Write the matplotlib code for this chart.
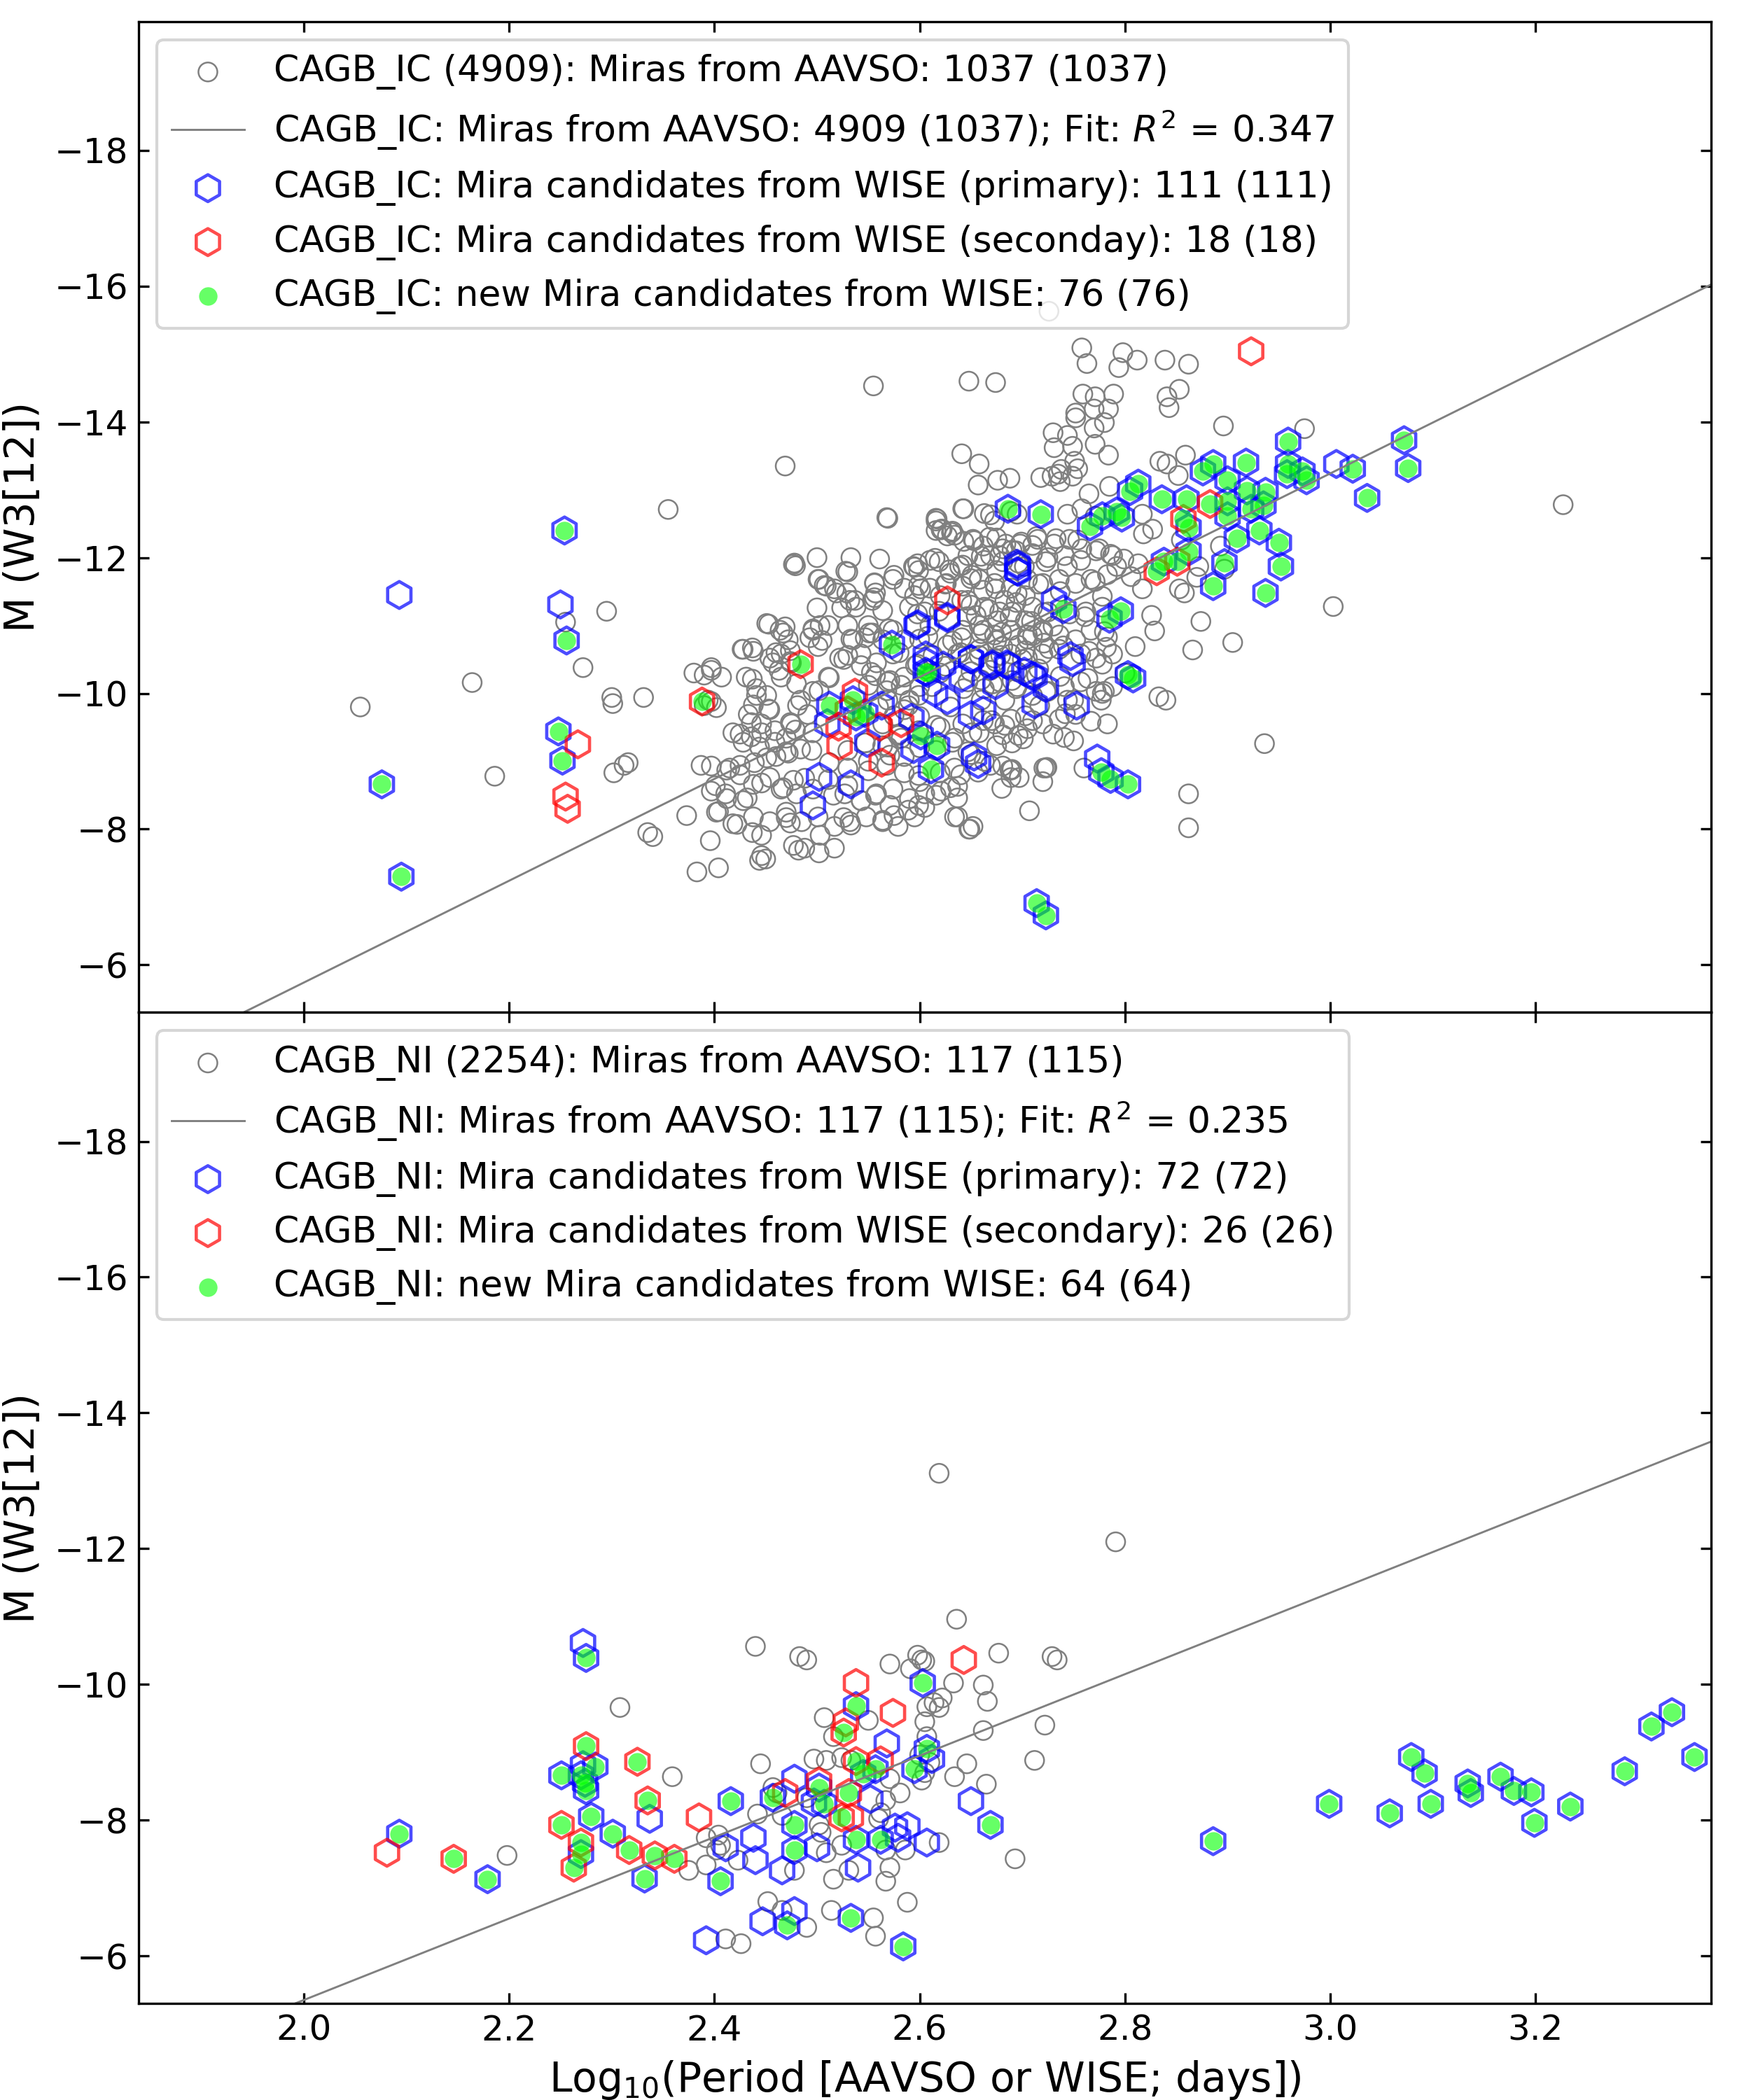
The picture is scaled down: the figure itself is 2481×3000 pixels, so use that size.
import numpy as np
import matplotlib
matplotlib.use("Agg")
import matplotlib.pyplot as plt

plt.rcParams['font.size'] = 12

# ---------------- CAGB_IC (top panel) ----------------
ic_aavso = [
    (2.055, -9.80), (2.164, -10.16), (2.186, -8.78), (2.255, -11.05), (2.272, -10.38), (2.295, -11.21),
    (2.300, -9.94), (2.301, -9.85), (2.331, -9.94), (2.302, -8.83), (2.312, -8.94), (2.316, -8.98),
    (2.387, -8.94), (2.355, -12.71), (2.469, -13.35), (2.555, -14.53), (2.648, -14.60), (2.674, -14.58),
    (2.726, -15.63), (3.227, -12.78), (3.003, -11.28), (2.936, -9.26), (2.862, -8.52), (2.862, -8.02),
    (2.905, -10.75), (2.866, -10.64), (2.874, -11.06), (2.833, -9.95), (2.810, -10.69), (2.826, -11.15),
    (2.896, -13.94), (2.975, -13.90), (2.707, -8.27),
    (2.758, -15.09), (2.763, -14.86), (2.798, -15.02), (2.812, -14.91), (2.794, -14.80), (2.839, -14.91),
    (2.862, -14.85), (2.853, -14.48), (2.841, -14.37), (2.843, -14.21), (2.759, -14.41), (2.771, -14.37),
    (2.789, -14.41), (2.752, -14.13), (2.770, -14.19), (2.784, -14.19), (2.752, -14.06), (2.780, -13.99),
    (2.770, -13.91), (2.730, -13.84), (2.744, -13.80), (2.771, -13.67), (2.731, -13.62), (2.749, -13.64),
    (2.784, -13.51), (2.641, -13.53), (2.658, -13.38), (2.751, -13.42), (2.754, -13.31), (2.735, -13.23),
    (2.749, -13.20), (2.657, -13.07), (2.676, -13.14), (2.688, -13.17), (2.718, -13.18), (2.737, -13.12),
    (2.834, -13.42), (2.841, -13.38), (2.859, -13.51), (2.852, -13.21), (2.643, -12.72), (2.669, -12.63),
    (2.695, -12.64), (2.744, -12.64), (2.758, -12.72), (2.771, -12.61), (2.765, -12.94), (2.785, -13.05),
    (2.617, -12.57), (2.622, -12.42), (2.632, -12.39), (2.643, -12.24), (2.662, -12.17), (2.681, -12.13),
    (2.698, -12.20), (2.714, -12.31), (2.733, -12.28), (2.754, -12.26), (2.817, -12.64), (2.827, -12.42),
    (2.818, -12.35), (2.855, -12.26), (2.893, -12.17), (2.872, -11.87), (2.817, -11.54), (2.858, -11.48),
    (2.792, -11.87), (2.806, -11.72), (2.771, -11.65), (2.778, -11.43), (2.761, -11.13), (2.780, -10.91),
    (2.765, -10.62), (2.778, -10.43), (2.775, -12.13), (2.786, -12.05), (2.799, -11.98), (2.813, -11.91),
    (2.758, -12.13), (2.729, -13.20), (2.738, -13.30), (2.568, -12.59), (2.616, -12.58), (2.621, -12.41),
    (2.627, -12.32),
    (2.598, -11.91), (2.619, -11.94), (2.639, -11.87), (2.660, -12.02), (2.681, -11.94), (2.702, -11.87),
    (2.723, -11.94), (2.744, -11.87), (2.601, -11.54), (2.625, -11.61), (2.650, -11.69), (2.674, -11.54),
    (2.695, -11.47), (2.716, -11.61), (2.737, -11.50), (2.598, -11.17), (2.619, -11.21), (2.646, -11.13),
    (2.667, -11.24), (2.688, -11.13), (2.709, -11.06), (2.730, -10.99), (2.608, -10.84), (2.632, -10.77),
    (2.660, -10.88), (2.681, -10.69), (2.705, -10.80), (2.726, -10.66), (2.598, -10.43), (2.625, -10.40),
    (2.650, -10.32), (2.674, -10.47), (2.695, -10.32), (2.716, -10.36), (2.737, -10.25), (2.612, -10.10),
    (2.643, -10.07), (2.671, -10.14), (2.695, -10.10), (2.723, -10.03),
    (2.657, -8.84), (2.681, -9.39), (2.701, -9.33), (2.744, -9.90), (2.764, -10.22), (2.777, -9.90),
    (2.782, -10.68), (2.829, -10.92), (2.840, -9.90), (2.853, -11.54), (2.870, -11.71), (2.897, -11.83),
    (2.634, -8.18), (2.649, -8.00), (2.688, -8.87), (2.724, -8.91), (2.742, -9.70), (2.780, -10.03),
    (2.800, -10.30), (2.750, -9.30), (2.760, -8.90),
    (2.477, -11.90), (2.479, -11.88), (2.500, -12.00), (2.533, -12.00), (2.561, -11.98), (2.530, -11.79),
    (2.575, -11.74), (2.594, -11.87), (2.599, -11.81), (2.615, -11.99), (2.630, -11.77), (2.616, -12.40),
    (2.634, -12.33), (2.653, -12.25), (2.675, -12.29), (2.502, -11.68), (2.507, -11.59), (2.517, -11.54),
    (2.529, -11.48), (2.537, -11.37), (2.524, -11.26), (2.500, -11.26), (2.556, -11.63), (2.557, -11.48),
    (2.554, -11.37), (2.564, -11.22), (2.453, -11.02), (2.469, -10.98), (2.467, -10.89), (2.496, -10.95),
    (2.503, -11.00), (2.493, -10.82), (2.505, -10.78), (2.533, -10.80), (2.554, -10.89), (2.550, -11.00),
    (2.427, -10.65), (2.437, -10.67), (2.460, -10.60), (2.474, -10.63), (2.457, -10.45), (2.474, -10.47),
    (2.463, -10.34), (2.526, -10.50), (2.380, -10.30), (2.390, -10.27), (2.397, -10.38), (2.437, -10.21),
    (2.441, -9.97), (2.453, -9.77), (2.436, -9.57), (2.397, -9.88), (2.390, -9.82), (2.425, -9.40),
    (2.436, -9.36), (2.446, -9.42), (2.474, -9.57), (2.479, -9.46), (2.470, -9.34), (2.481, -9.82),
    (2.484, -9.90), (2.502, -10.04), (2.512, -10.23), (2.415, -8.90), (2.425, -8.94), (2.439, -8.98),
    (2.451, -9.05), (2.460, -9.07), (2.472, -9.12), (2.484, -9.18), (2.495, -9.16), (2.401, -8.64),
    (2.411, -8.52), (2.432, -8.46), (2.446, -8.68), (2.467, -8.61), (2.477, -8.72), (2.488, -8.75),
    (2.373, -8.20), (2.404, -8.26), (2.422, -8.07), (2.437, -7.95), (2.446, -7.91), (2.335, -7.95),
    (2.340, -7.89), (2.396, -7.83), (2.470, -8.17), (2.474, -8.09), (2.477, -7.76), (2.482, -7.69),
    (2.488, -7.72), (2.502, -7.65), (2.517, -7.72), (2.503, -7.91), (2.446, -7.61), (2.450, -7.56),
    (2.444, -7.54), (2.383, -7.37), (2.404, -7.43), (2.516, -8.50), (2.530, -8.64), (2.543, -8.42),
    (2.557, -8.50), (2.571, -8.35), (2.589, -8.28), (2.599, -8.35), (2.616, -8.50), (2.630, -8.61),
    (2.637, -8.46), (2.526, -8.17), (2.533, -8.06), (2.564, -8.13), (2.575, -8.20), (2.648, -8.00),
    (2.512, -8.98), (2.530, -8.90), (2.550, -8.86), (2.568, -8.94), (2.585, -8.83), (2.599, -8.79),
    (2.620, -8.83), (2.634, -8.90), (2.669, -8.94), (2.690, -8.88), (2.721, -8.90), (2.547, -9.27),
    (2.564, -9.23), (2.582, -9.34), (2.634, -9.34), (2.651, -9.42), (2.675, -9.23), (2.696, -9.38),
    (2.557, -10.26), (2.571, -10.19), (2.550, -10.12), (2.568, -10.04), (2.582, -10.12), (2.599, -9.97),
    (2.589, -9.82), (2.575, -9.67), (2.627, -10.71), (2.641, -10.82), (2.662, -10.93), (2.675, -10.78),
    (2.696, -10.71), (2.710, -10.85), (2.721, -10.74), (2.658, -10.56), (2.679, -10.56), (2.703, -10.63),
    (2.599, -11.59), (2.620, -11.44), (2.641, -11.37), (2.662, -11.52), (2.683, -11.37), (2.703, -11.44),
    (2.655, -11.15), (2.676, -11.07), (2.703, -11.07), (2.721, -11.19), (2.651, -11.74), (2.675, -11.81),
    (2.696, -11.92), (2.669, -12.03), (2.690, -12.11), (2.710, -12.18), (2.669, -10.34), (2.690, -10.19),
    (2.714, -10.26), (2.662, -9.60), (2.683, -9.53), (2.703, -9.67), (2.683, -9.90), (2.717, -9.82),
    (2.690, -9.27), (2.596, -10.41), (2.613, -10.56), (2.530, -10.56), (2.543, -10.41), (2.547, -10.82),
    (2.530, -11.00), (2.599, -9.45), (2.616, -9.53), (2.616, -9.16), (2.530, -9.16), (2.571, -9.09),
    (2.580, -10.60), (2.600, -10.80), (2.620, -10.30), (2.640, -10.60), (2.660, -10.20), (2.680, -10.90),
    (2.700, -10.50), (2.570, -10.95), (2.610, -11.00), (2.650, -11.30), (2.690, -11.20), (2.720, -10.90),
    (2.740, -10.70), (2.590, -9.90), (2.630, -9.80), (2.670, -9.60), (2.710, -9.60), (2.750, -9.90),
    (2.620, -9.50), (2.660, -9.90), (2.560, -9.80), (2.580, -9.40), (2.600, -9.20), (2.650, -9.10),
    (2.730, -9.40), (2.550, -9.00), (2.600, -8.70), (2.640, -8.80), (2.680, -8.60), (2.720, -8.70),
    # denser core, read from a close-up
    (2.569, -12.58), (2.616, -12.54), (2.621, -12.42), (2.631, -12.37), (2.642, -12.72), (2.663, -12.65),
    (2.673, -12.54), (2.689, -12.68), (2.652, -12.27), (2.668, -12.30), (2.684, -12.20), (2.699, -12.23),
    (2.715, -12.27), (2.731, -12.20), (2.746, -12.27), (2.647, -12.03), (2.663, -11.96), (2.678, -12.03),
    (2.694, -12.10), (2.710, -12.06), (2.725, -12.00), (2.741, -12.03), (2.757, -11.96), (2.772, -12.10),
    (2.788, -12.03), (2.595, -11.86), (2.610, -11.96), (2.629, -11.82), (2.642, -11.89), (2.478, -11.92),
    (2.528, -11.80), (2.501, -11.68), (2.509, -11.58), (2.519, -11.48), (2.532, -11.37), (2.538, -11.27),
    (2.556, -11.62), (2.556, -11.41), (2.574, -11.68), (2.585, -11.55), (2.595, -11.44), (2.610, -11.55),
    (2.626, -11.62), (2.642, -11.58), (2.658, -11.68), (2.673, -11.62), (2.689, -11.55), (2.705, -11.68),
    (2.720, -11.62), (2.736, -11.68), (2.752, -11.62), (2.767, -11.68), (2.783, -11.75), (2.590, -11.27),
    (2.605, -11.20), (2.647, -11.37), (2.663, -11.27), (2.678, -11.20), (2.694, -11.34), (2.710, -11.27),
    (2.725, -11.20), (2.746, -11.17), (2.762, -11.20), (2.778, -11.27), (2.451, -11.03), (2.464, -10.93),
    (2.472, -10.79), (2.496, -10.93), (2.511, -11.00), (2.535, -10.79), (2.551, -10.89), (2.564, -10.79),
    (2.574, -10.93), (2.585, -10.79), (2.642, -10.93), (2.658, -11.00), (2.673, -10.86), (2.689, -10.93),
    (2.705, -10.86), (2.720, -10.93), (2.736, -10.86), (2.752, -10.79), (2.767, -10.93), (2.783, -10.83),
    (2.428, -10.65), (2.438, -10.62), (2.454, -10.52), (2.465, -10.58), (2.475, -10.45), (2.501, -10.69),
    (2.522, -10.52), (2.543, -10.58), (2.558, -10.45), (2.574, -10.58), (2.637, -10.58), (2.658, -10.65),
    (2.673, -10.52), (2.689, -10.58), (2.705, -10.52), (2.720, -10.58), (2.736, -10.65), (2.757, -10.58),
    (2.772, -10.52), (2.788, -10.58), (2.397, -10.34), (2.407, -10.24), (2.431, -10.24), (2.441, -10.07),
    (2.451, -9.97), (2.438, -9.83), (2.454, -9.76), (2.465, -10.24), (2.480, -10.14), (2.496, -10.03),
    (2.511, -10.24), (2.553, -10.31), (2.569, -10.17), (2.585, -10.24), (2.600, -10.10), (2.647, -10.17),
    (2.663, -10.07), (2.678, -10.17), (2.694, -10.07), (2.710, -9.97), (2.725, -10.03), (2.741, -10.10),
    (2.757, -10.17), (2.772, -10.03), (2.788, -10.10), (2.394, -9.90), (2.402, -9.79), (2.433, -9.69),
    (2.446, -9.55), (2.459, -9.45), (2.418, -9.42), (2.428, -9.28), (2.444, -9.21), (2.459, -9.28),
    (2.470, -9.14), (2.475, -9.55), (2.491, -9.69), (2.496, -9.42), (2.569, -9.90), (2.585, -9.76),
    (2.600, -9.66), (2.564, -9.55), (2.579, -9.38), (2.569, -9.21), (2.585, -9.07), (2.642, -9.55),
    (2.658, -9.42), (2.673, -9.55), (2.689, -9.62), (2.705, -9.48), (2.720, -9.55), (2.736, -9.62),
    (2.752, -9.69), (2.767, -9.59), (2.783, -9.55), (2.632, -9.28), (2.647, -9.14), (2.663, -9.00),
    (2.681, -8.93), (2.689, -8.87), (2.697, -8.76), (2.397, -8.93), (2.412, -8.87), (2.425, -8.80),
    (2.438, -8.66), (2.454, -8.76), (2.465, -8.59), (2.480, -8.52), (2.496, -8.59), (2.511, -8.73),
    (2.527, -8.52), (2.543, -8.42), (2.558, -8.52), (2.574, -8.59), (2.590, -8.45), (2.605, -8.52),
    (2.621, -8.56), (2.637, -8.63), (2.397, -8.56), (2.412, -8.45), (2.428, -8.42), (2.402, -8.25),
    (2.418, -8.08), (2.438, -8.18), (2.454, -8.11), (2.470, -8.25), (2.485, -8.11), (2.501, -8.18),
    (2.517, -8.04), (2.532, -8.11), (2.548, -8.18), (2.564, -8.11), (2.579, -8.04), (2.595, -8.18),
    (2.605, -8.32), (2.637, -8.18), (2.652, -8.04), (2.723, -8.90), (2.741, -9.35), (2.778, -10.00),
    (2.689, -8.76),
]

ic_primary = [
    (2.093, -11.45), (2.250, -11.31), (2.696, -11.88), (2.696, -11.79), (2.597, -11.00), (2.627, -11.11),
    (2.606, -10.56), (2.623, -10.41), (2.650, -10.50), (2.670, -10.41), (2.686, -10.41), (2.709, -10.26),
    (2.723, -10.08), (2.641, -10.23), (2.615, -10.01), (2.627, -9.90), (2.674, -10.12), (2.712, -9.84),
    (2.650, -9.68), (2.662, -9.75), (2.592, -9.64), (2.563, -9.82), (2.510, -9.56), (2.549, -9.27),
    (2.594, -9.18), (2.653, -9.07), (2.502, -8.77), (2.533, -8.66), (2.496, -8.35), (3.006, -13.38),
    (2.695, -11.91), (2.695, -11.80), (2.627, -11.13), (2.598, -11.02), (2.747, -10.55), (2.606, -10.47),
    (2.650, -10.51), (2.671, -10.43), (2.685, -10.43), (2.702, -10.32), (2.712, -10.25), (2.731, -11.37),
    (2.753, -9.82), (2.773, -9.04), (2.749, -10.46), (2.657, -8.96),
    (2.254, -12.40), (2.256, -10.78), (2.248, -9.44), (2.252, -9.01), (2.076, -8.66), (2.095, -7.30),
    (2.573, -10.72), (2.608, -10.30), (2.512, -9.82), (2.535, -9.90), (2.538, -9.66), (2.547, -9.71),
    (2.601, -9.38), (2.617, -9.23), (2.611, -8.88), (2.714, -6.91), (2.723, -6.73), (2.686, -12.72),
    (2.718, -12.64), (2.766, -12.46), (2.778, -12.61), (2.792, -12.68), (2.797, -12.59), (2.805, -12.98),
    (2.813, -13.09), (2.836, -12.86), (2.860, -12.86), (2.876, -13.27), (2.886, -13.38), (2.900, -13.14),
    (2.918, -13.40), (2.959, -13.71), (2.959, -13.38), (2.958, -13.23), (2.973, -13.27), (2.977, -13.14),
    (3.022, -13.31), (3.072, -13.73), (3.076, -13.32), (3.036, -12.88), (2.919, -12.99), (2.937, -12.97),
    (2.923, -12.72), (2.935, -12.77), (2.900, -12.83), (2.900, -12.61), (2.862, -12.44), (2.909, -12.28),
    (2.931, -12.40), (2.950, -12.22), (2.862, -12.09), (2.838, -11.94), (2.897, -11.92), (2.952, -11.87),
    (2.886, -11.58), (2.937, -11.48), (2.796, -11.21), (2.785, -11.10), (2.740, -11.24), (2.803, -10.27),
    (2.606, -10.32), (2.777, -8.84), (2.786, -8.74), (2.803, -8.66), (2.808, -10.22),
]

ic_secondary = [
    (2.267, -9.25), (2.255, -8.48), (2.257, -8.30), (2.388, -9.88), (2.484, -10.43), (2.627, -11.37),
    (2.582, -9.56), (2.521, -9.51), (2.537, -10.01), (2.561, -9.51), (2.522, -9.23), (2.563, -8.98),
    (2.923, -15.04), (2.883, -12.79), (2.857, -12.57), (2.851, -11.94), (2.831, -11.80), (2.530, -9.75),
]

ic_new = [
    (2.254, -12.40), (2.256, -10.78), (2.248, -9.44), (2.252, -9.01), (2.076, -8.66), (2.095, -7.30),
    (2.388, -9.88), (2.484, -10.43), (2.573, -10.72), (2.608, -10.30), (2.512, -9.82), (2.535, -9.90),
    (2.538, -9.66), (2.547, -9.71), (2.601, -9.38), (2.617, -9.23), (2.611, -8.88), (2.714, -6.91),
    (2.723, -6.73), (2.686, -12.72), (2.718, -12.64), (2.766, -12.46), (2.778, -12.61), (2.792, -12.68),
    (2.797, -12.59), (2.805, -12.98), (2.813, -13.09), (2.836, -12.86), (2.860, -12.86), (2.876, -13.27),
    (2.886, -13.38), (2.900, -13.14), (2.918, -13.40), (2.959, -13.71), (2.959, -13.38), (2.958, -13.23),
    (2.973, -13.27), (2.977, -13.14), (3.022, -13.31), (3.072, -13.73), (3.076, -13.32), (3.036, -12.88),
    (2.919, -12.99), (2.937, -12.97), (2.923, -12.72), (2.935, -12.77), (2.900, -12.83), (2.900, -12.61),
    (2.883, -12.79), (2.857, -12.57), (2.862, -12.44), (2.909, -12.28), (2.931, -12.40), (2.950, -12.22),
    (2.862, -12.09), (2.851, -11.94), (2.831, -11.80), (2.838, -11.94), (2.897, -11.92), (2.952, -11.87),
    (2.886, -11.58), (2.937, -11.48), (2.796, -11.21), (2.785, -11.10), (2.740, -11.24), (2.803, -10.27),
    (2.606, -10.32), (2.777, -8.84), (2.786, -8.74), (2.803, -8.66), (2.808, -10.22),
]

ic_fit = [-7.50, 9.26]  # slope, intercept

# ---------------- CAGB_NI (bottom panel) ----------------
ni_aavso = [
    (2.636, -10.96), (2.440, -10.56), (2.483, -10.41), (2.490, -10.36), (2.571, -10.30), (2.598, -10.43),
    (2.602, -10.36), (2.605, -10.34), (2.591, -10.23), (2.677, -10.46), (2.729, -10.41), (2.734, -10.36),
    (2.633, -10.02), (2.662, -9.99), (2.666, -9.75), (2.622, -9.80), (2.614, -9.73), (2.607, -9.67),
    (2.619, -9.66), (2.308, -9.66), (2.507, -9.51), (2.550, -9.47), (2.605, -9.45), (2.607, -9.23),
    (2.662, -9.32), (2.722, -9.40), (2.516, -9.23), (2.712, -8.88), (2.646, -8.83), (2.445, -8.83),
    (2.359, -8.64), (2.497, -8.90), (2.509, -8.88), (2.524, -8.92), (2.533, -8.88), (2.600, -8.96),
    (2.610, -8.85), (2.605, -8.70), (2.602, -8.59), (2.634, -8.64), (2.665, -8.53), (2.571, -8.61),
    (2.581, -8.40), (2.567, -8.29), (2.562, -8.11), (2.560, -8.02), (2.457, -8.48), (2.461, -8.40),
    (2.442, -8.09), (2.466, -8.07), (2.490, -8.33), (2.502, -7.93), (2.504, -7.82), (2.509, -7.52),
    (2.524, -7.63), (2.392, -7.74), (2.404, -7.78), (2.406, -7.63), (2.402, -7.56), (2.375, -7.26),
    (2.392, -7.34), (2.423, -7.41), (2.478, -7.26), (2.567, -7.56), (2.571, -7.30), (2.586, -7.56),
    (2.619, -7.67), (2.516, -7.13), (2.531, -7.26), (2.567, -7.10), (2.198, -7.48), (2.452, -6.80),
    (2.466, -6.67), (2.490, -6.42), (2.514, -6.67), (2.555, -6.56), (2.588, -6.79), (2.557, -6.29),
    (2.411, -6.25), (2.426, -6.18), (2.619, -13.11), (2.791, -12.10), (2.693, -7.43),
]

ni_primary = [
    (2.272, -10.61), (2.568, -9.13), (2.612, -8.90), (2.478, -8.61), (2.552, -8.31), (2.497, -8.26),
    (2.650, -8.28), (2.576, -7.89), (2.588, -7.91), (2.579, -7.74), (2.607, -7.67), (2.500, -7.60),
    (2.438, -7.74), (2.411, -7.60), (2.440, -7.41), (2.466, -7.26), (2.540, -7.30), (2.337, -8.02),
    (2.272, -8.81), (2.447, -6.51), (2.478, -6.66), (2.392, -6.23),
    (2.275, -10.39), (2.603, -10.02), (2.538, -9.68), (2.607, -9.05), (2.595, -8.75), (2.557, -8.75),
    (2.457, -8.33), (2.502, -8.48), (2.507, -8.24), (2.669, -7.93), (2.538, -7.71), (2.562, -7.71),
    (2.478, -7.93), (2.478, -7.56), (2.332, -7.14), (2.406, -7.10), (2.416, -8.28), (2.280, -8.05),
    (2.301, -7.80), (2.270, -7.50), (2.284, -8.79), (2.251, -8.66), (2.270, -8.66), (2.274, -8.55),
    (2.275, -8.44), (2.179, -7.13), (2.093, -7.80), (2.471, -6.45), (2.533, -6.56), (2.584, -6.14),
    (2.545, -8.68), (2.886, -7.69), (2.999, -8.24), (3.058, -8.10), (3.079, -8.93), (3.092, -8.69),
    (3.098, -8.24), (3.134, -8.54), (3.137, -8.40), (3.166, -8.64), (3.179, -8.43), (3.196, -8.41),
    (3.199, -7.96), (3.234, -8.20), (3.287, -8.72), (3.313, -9.38), (3.333, -9.59), (3.355, -8.93),
]

ni_secondary = [
    (2.335, -8.29), (2.251, -7.93), (2.270, -7.67), (2.263, -7.30), (2.317, -7.56), (2.342, -7.48),
    (2.361, -7.43), (2.325, -8.86), (2.275, -9.09), (2.146, -7.43), (2.526, -9.29), (2.531, -8.40),
    (2.524, -8.04), (2.538, -8.87), (2.385, -8.04), (2.081, -7.52), (2.538, -10.02), (2.574, -9.58),
    (2.643, -10.36), (2.528, -9.44), (2.562, -8.88), (2.502, -8.57), (2.469, -8.40), (2.533, -8.04),
]

ni_new = [
    (2.275, -10.39), (2.603, -10.02), (2.538, -9.68), (2.607, -9.05), (2.595, -8.75), (2.557, -8.75),
    (2.457, -8.33), (2.502, -8.48), (2.507, -8.24), (2.669, -7.93), (2.538, -7.71), (2.562, -7.71),
    (2.478, -7.93), (2.478, -7.56), (2.332, -7.14), (2.406, -7.10), (2.416, -8.28), (2.280, -8.05),
    (2.301, -7.80), (2.270, -7.50), (2.284, -8.79), (2.251, -8.66), (2.270, -8.66), (2.274, -8.55),
    (2.275, -8.44), (2.179, -7.13), (2.093, -7.80), (2.471, -6.45), (2.533, -6.56), (2.584, -6.14),
    (2.545, -8.68), (2.886, -7.69), (2.999, -8.24), (3.058, -8.10), (3.079, -8.93), (3.092, -8.69),
    (3.098, -8.24), (3.134, -8.54), (3.137, -8.40), (3.166, -8.64), (3.179, -8.43), (3.196, -8.41),
    (3.199, -7.96), (3.234, -8.20), (3.287, -8.72), (3.313, -9.38), (3.333, -9.59), (3.355, -8.93),
    (2.335, -8.29), (2.251, -7.93), (2.270, -7.67), (2.263, -7.30), (2.317, -7.56), (2.342, -7.48),
    (2.361, -7.43), (2.325, -8.86), (2.275, -9.09), (2.146, -7.43), (2.526, -9.29), (2.531, -8.40),
    (2.524, -8.04), (2.538, -8.87),
]

ni_fit = [-6.00, 6.65]

ic_labels = [
    'CAGB_IC (4909): Miras from AAVSO: 1037 (1037)',
    'CAGB_IC: Miras from AAVSO: 4909 (1037); Fit: $R^2$ = 0.347',
    'CAGB_IC: Mira candidates from WISE (primary): 111 (111)',
    'CAGB_IC: Mira candidates from WISE (seconday): 18 (18)',
    'CAGB_IC: new Mira candidates from WISE: 76 (76)',
]
ni_labels = [
    'CAGB_NI (2254): Miras from AAVSO: 117 (115)',
    'CAGB_NI: Miras from AAVSO: 117 (115); Fit: $R^2$ = 0.235',
    'CAGB_NI: Mira candidates from WISE (primary): 72 (72)',
    'CAGB_NI: Mira candidates from WISE (secondary): 26 (26)',
    'CAGB_NI: new Mira candidates from WISE: 64 (64)',
]


def draw_panel(ax, aavso, fit, primary, secondary, new, labels):
    a = np.array(aavso).T
    p = np.array(primary).T
    s = np.array(secondary).T
    n = np.array(new).T
    ax.scatter(a[0], a[1], s=42, marker='o', facecolors='none', edgecolors='gray',
               linewidths=0.6, label=labels[0])
    xx = np.linspace(1.7, 3.5, 50)
    ax.plot(xx, np.polyval(fit, xx), color='gray', lw=0.7, label=labels[1])
    ax.scatter(p[0], p[1], s=85, marker='h', facecolors='none', edgecolors='blue',
               alpha=0.7, linewidths=1.1, label=labels[2])
    ax.scatter(s[0], s[1], s=85, marker='h', facecolors='none', edgecolors='red',
               alpha=0.7, linewidths=1.1, label=labels[3])
    ax.scatter(n[0], n[1], s=40, marker='o', color='lime', alpha=0.6,
               linewidths=0, label=labels[4])
    ax.set_xlim(1.839, 3.371)
    ax.set_ylim(-5.3, -19.9)
    ax.set_ylabel('M (W3[12])', fontsize=14)
    ax.tick_params(which='both', direction='in', top=True, right=True, labelsize=12)
    ax.legend(loc='upper left', fontsize=12.5)


fig, (ax1, ax2) = plt.subplots(2, 1, figsize=(8.27, 10), dpi=300, sharex=True)
fig.subplots_adjust(left=0.0798, right=0.985, bottom=0.046, top=0.9898, hspace=0)

draw_panel(ax1, ic_aavso, ic_fit, ic_primary, ic_secondary, ic_new, ic_labels)
draw_panel(ax2, ni_aavso, ni_fit, ni_primary, ni_secondary, ni_new, ni_labels)

ax1.tick_params(labelbottom=False)
ax2.set_xticks([2.0, 2.2, 2.4, 2.6, 2.8, 3.0, 3.2])
ax2.set_xlabel('Log$_{10}$(Period [AAVSO or WISE; days])', fontsize=14)

fig.savefig('out.png', dpi=300)
